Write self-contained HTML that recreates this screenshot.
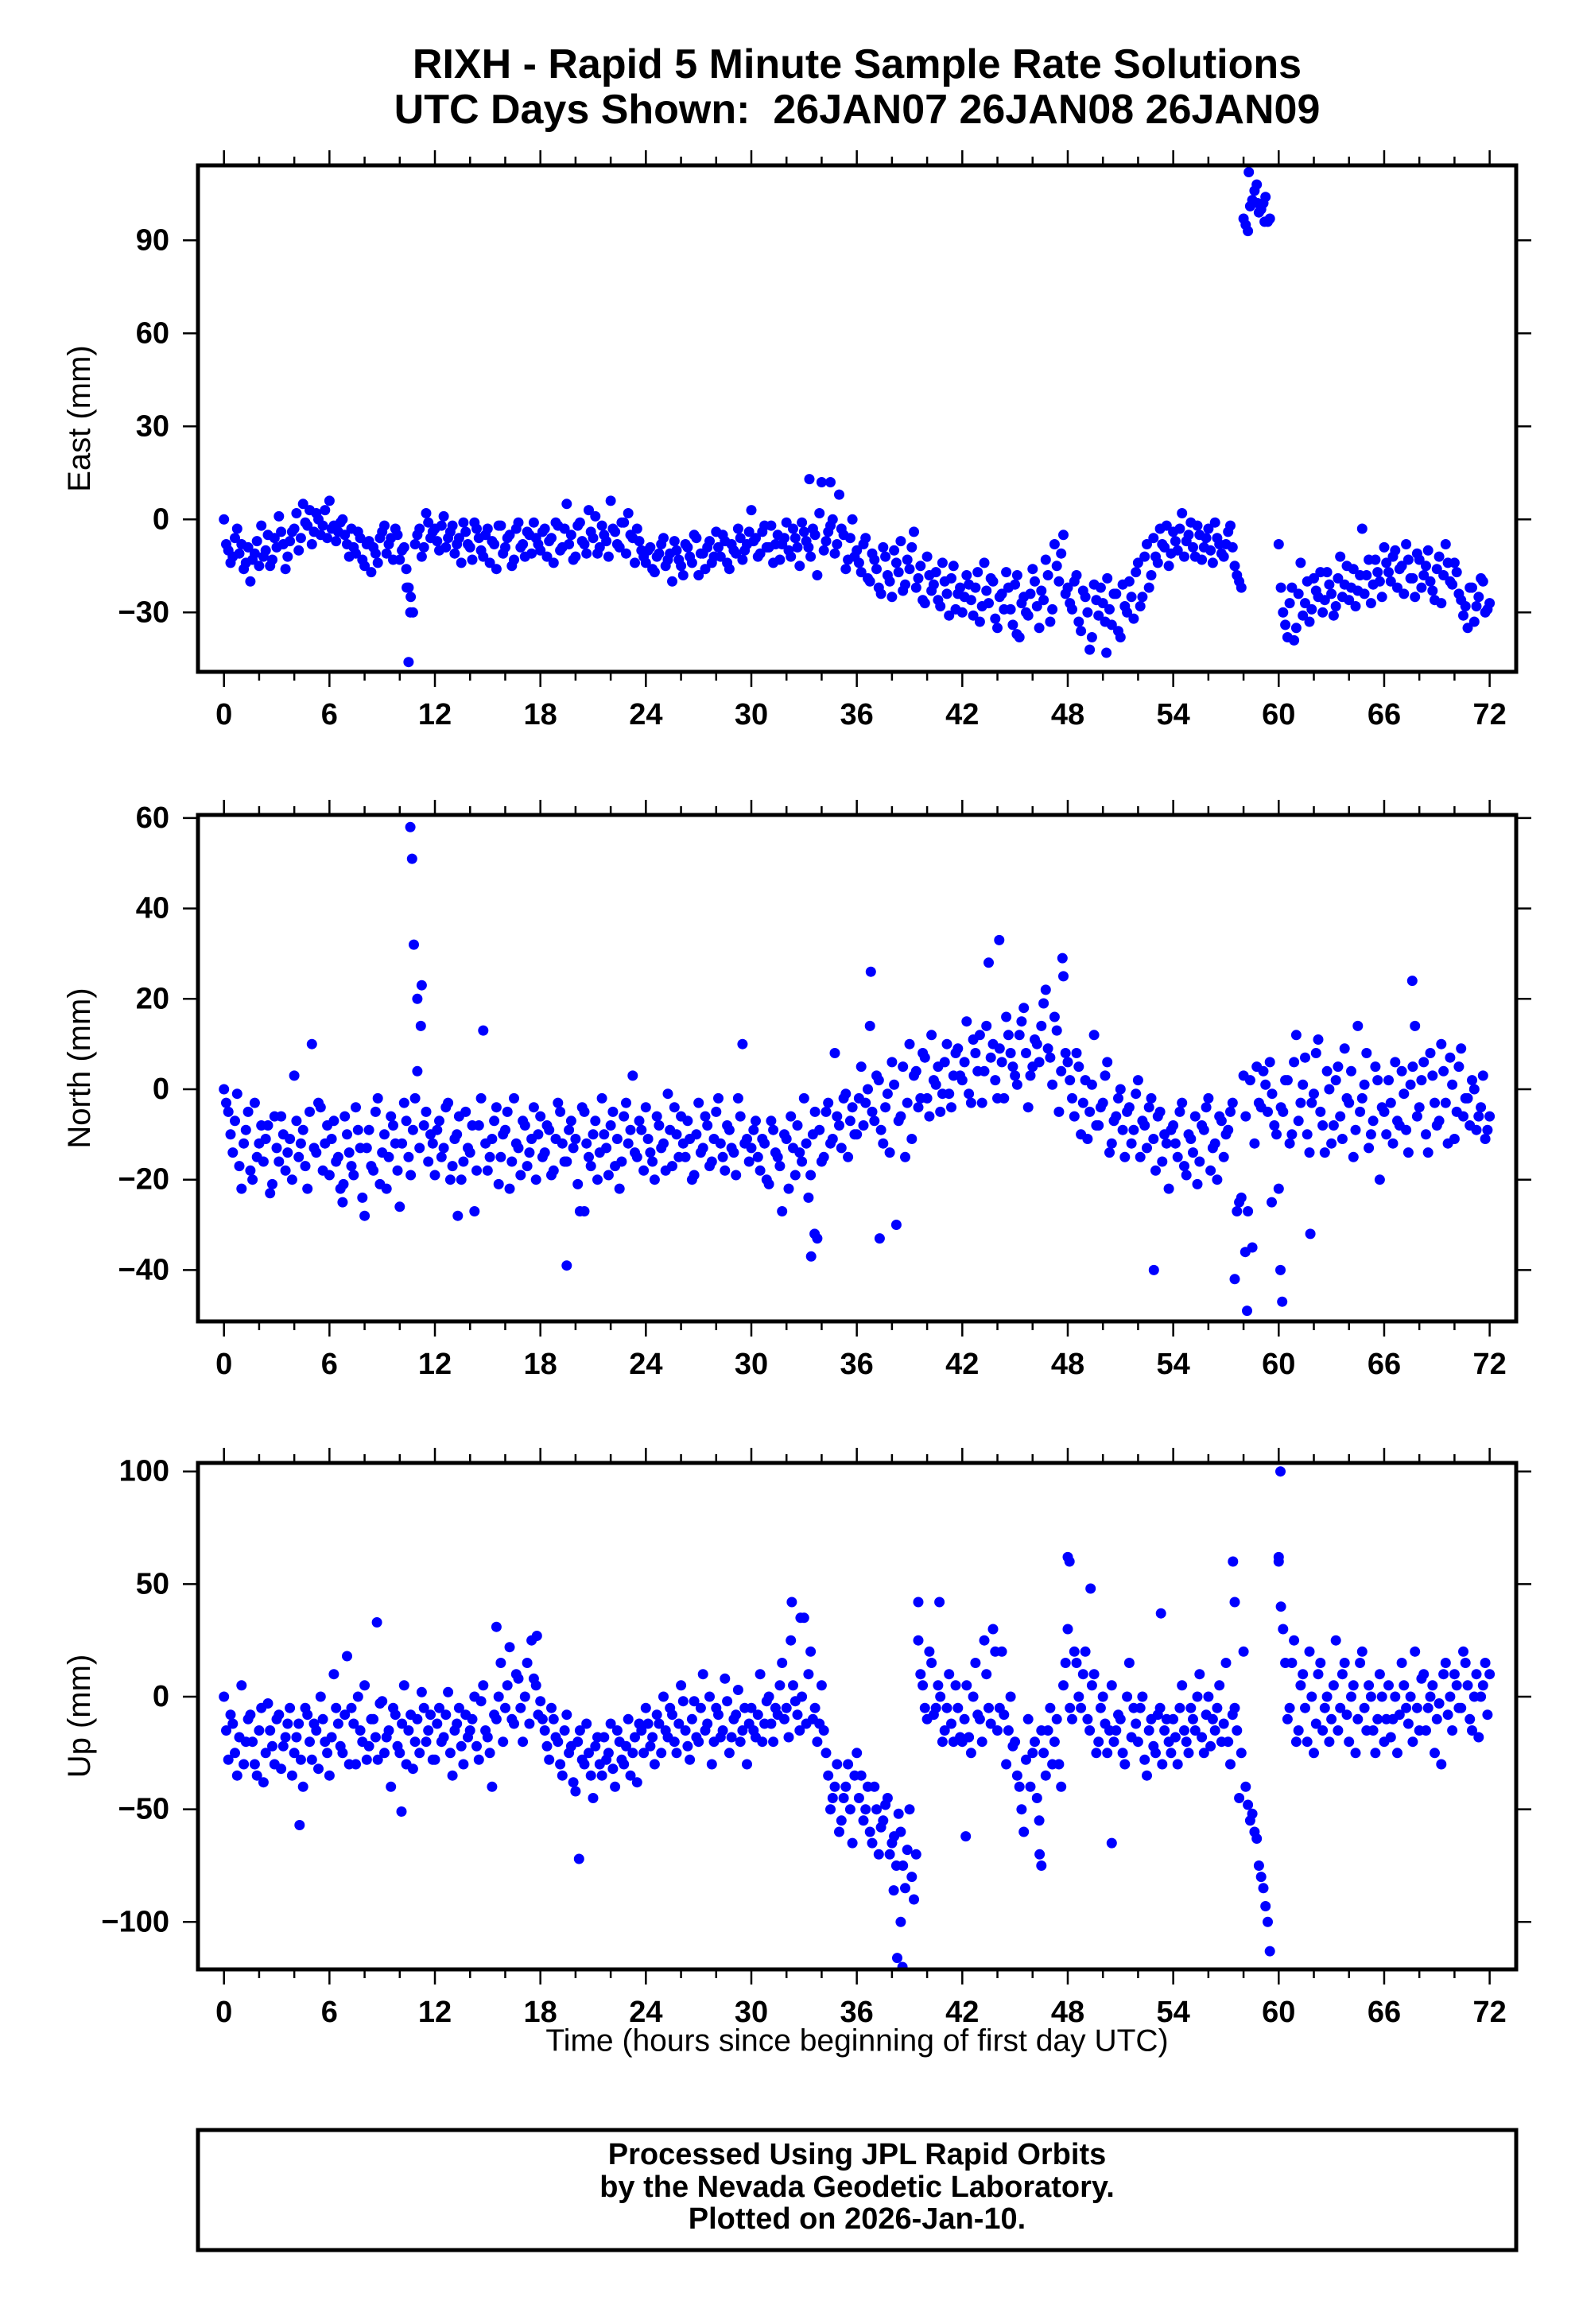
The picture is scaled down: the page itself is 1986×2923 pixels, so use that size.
<!DOCTYPE html>
<html><head><meta charset="utf-8"><title>RIXH Rapid 5 Minute Solutions</title>
<style>html,body{margin:0;padding:0;background:#fff}svg{display:block}text{font-family:"Liberation Sans",Arial,sans-serif}</style>
</head><body>
<svg id="chart" width="1986" height="2923" viewBox="0 0 1986 2923" xmlns="http://www.w3.org/2000/svg">
<rect width="1986" height="2923" fill="#fff"/>
<text x="1078" y="81" font-size="52" font-weight="bold" text-anchor="middle" dominant-baseline="central">RIXH - Rapid 5 Minute Sample Rate Solutions</text>
<text x="1078" y="138" font-size="52" font-weight="bold" text-anchor="middle" dominant-baseline="central" xml:space="preserve">UTC Days Shown:  26JAN07 26JAN08 26JAN09</text>
<text x="1078" y="2567" font-size="39" text-anchor="middle" dominant-baseline="central">Time (hours since beginning of first day UTC)</text>
<rect x="249" y="2679" width="1658" height="151" fill="none" stroke="#000" stroke-width="5"/>
<text x="1078" y="2710" font-size="38" font-weight="bold" text-anchor="middle" dominant-baseline="central">Processed Using JPL Rapid Orbits</text>
<text x="1078" y="2751" font-size="38" font-weight="bold" text-anchor="middle" dominant-baseline="central">by the Nevada Geodetic Laboratory.</text>
<text x="1078" y="2791" font-size="38" font-weight="bold" text-anchor="middle" dominant-baseline="central">Plotted on 2026-Jan-10.</text>
</svg>
<script>
const xTicks = [0,6,12,18,24,30,36,42,48,54,60,66,72];
const eastTicks = [-30,0,30,60,90];
const northTicks = [-40,-20,0,20,40,60];
const upTicks = [-100,-50,0,50,100];
const eastValues = [
0,-10,-12,-3,-8,-14,-20,-11,-15,-12,-5,-13,-9,-4,-16,-7,-3,-10,5,-2,-8,2,-5,3,
6,-2,-4,0,-8,-3,-11,-6,-15,-7,-9,-14,-4,-11,-6,-3,-13,-9,-22,-30,-5,-12,2,-6,
-3,-10,1,-6,-2,-8,-14,-4,-9,-1,-6,-12,-3,-7,-16,-2,-9,-5,-13,-1,-8,-4,-11,-6,
-10,-3,-7,-14,-2,-9,5,-5,-12,-1,-8,3,-6,-11,-2,-7,6,-4,-9,-1,2,-6,-3,-10,
-14,-9,-17,-11,-6,-13,-20,-10,-15,-8,-12,-5,-18,-11,-9,-14,-4,-12,-7,-16,-10,-3,-13,-8,
3,-6,-11,-2,-9,-14,-5,-8,-1,-12,-6,-15,-4,-9,-3,-18,12,-7,-2,-11,8,-5,-13,0,
-10,-17,-6,-20,-13,-22,-9,-18,-25,-14,-7,-21,-16,-4,-19,-26,-12,-23,-17,-28,-20,-31,-15,-24,
-30,-18,-26,-22,-33,-14,-27,-20,-35,-24,-17,-29,-21,-38,-25,-31,-16,-28,-23,-13,-33,-8,-20,-5,
-22,-29,-18,-36,-25,-42,-21,-31,-27,-19,-34,-24,-38,-28,-20,-32,-14,-25,-8,-18,-12,-3,-9,-15,
-4,-10,2,-7,-1,-12,-5,-9,-3,-14,-6,-11,-8,-2,-15,-20,97,93,103,108,100,104,97,null,
-8,-30,-38,-22,-35,-14,-27,-33,-19,-25,-30,-17,-24,-28,-12,-21,-26,-16,-23,-3,-18,-27,-13,-20,
-9,-17,-12,-22,-15,-8,-19,-25,-13,-18,-10,-23,-16,-27,-8,-20,-14,-24,-31,-35,-22,-28,-19,-30,
-27];
const eastValues2 = [
-8,-14,-6,-11,-16,-9,-13,-7,-2,-10,-15,-6,1,-8,-12,-4,2,-6,-1,3,-4,0,-2,-6,
-3,-7,-1,-5,-12,-9,-4,-13,-8,-17,-11,-6,-2,-8,-13,-5,-10,-16,-25,-8,-3,-9,-1,-4,
-7,-2,-9,-4,-11,-6,-1,-8,-13,-3,-10,-5,-14,-8,-2,-11,-6,-15,-3,-9,-12,-5,-1,-8,
-4,-12,-6,-1,-10,-3,-8,-13,-2,-7,-11,-4,1,-9,-5,-12,-3,-8,-1,-11,-5,-14,-7,-12,
-10,-16,-12,-8,-15,-11,-7,-13,-18,-9,-14,-6,-11,-16,-7,-12,-9,-5,-14,-8,-11,-6,-10,-4,
-7,-12,-4,-9,-2,-8,-13,-6,-10,-3,-9,-1,-7,-12,-5,2,-10,-4,0,-8,-3,-16,-6,-12,
-14,-8,-19,-11,-16,-24,-12,-20,-10,-17,-23,-13,-9,-22,-15,-27,-18,-21,-26,-14,-24,-19,-29,-22,
-25,-21,-31,-17,-28,-23,-19,-32,-25,-29,-22,-34,-18,-27,-30,-24,-20,-35,-26,-18,-29,-15,-11,-24,
-27,-20,-33,-23,-30,-38,-26,-22,-33,-29,-24,-36,-21,-30,-25,-17,-28,-12,-22,-6,-14,-8,-2,-11,
-7,-3,-12,-5,-9,-2,-13,-6,-10,-1,-8,-12,-4,-9,-18,-22,95,101,106,99,102,96,null,null,
-22,-34,-27,-39,-24,-31,-20,-29,-23,-17,-26,-21,-31,-19,-25,-15,-22,-28,-18,-24,-13,-21,-17,-25,
-14,-20,-10,-16,-24,-13,-19,-11,-22,-15,-20,-26,-12,-18,-14,-21,-17,-26,-28,-22,-33,-25,-20,-29];
const eastExtraT = [10.4,10.6,10.5,33.3,34.5,58.3,58.8,59.2,45.1,50.2];
const eastExtraV = [-22,-30,-46,13,12,112,102,96,-37,-43];
const northValues = [
0,-5,-14,-1,-22,-9,-18,-3,-12,-16,-8,-21,-13,-6,-18,-11,3,-15,-9,-22,10,-14,-4,-12,
-19,-7,-15,-25,-10,-17,-4,-13,-28,-9,-18,-2,-14,-22,-6,-12,-26,-3,-15,-9,4,23,-5,-10,
-19,-7,-13,-3,-17,-10,-20,-5,-14,-27,-8,13,-18,-11,-4,-15,-9,-22,-2,-13,-7,-17,-11,-20,
-6,-14,-9,-18,-3,-12,-16,-7,-11,-27,-5,-15,-10,-20,-2,-13,-8,-17,-22,-6,-12,3,-15,-9,
-4,-14,-20,-8,-12,-1,-17,-10,-6,-15,-11,-19,-3,-13,-8,-16,-5,-12,-18,-9,-14,-2,10,-11,
-13,-7,-18,-12,-21,-9,-15,-27,-11,-6,-19,-14,-2,-24,-10,-33,-16,-5,-12,8,-8,-2,-15,-4,
-10,5,-3,14,-7,2,-12,-1,6,-30,-6,-15,10,3,-4,8,-2,12,1,-5,6,-1,3,9,
2,15,-3,8,12,4,28,10,-2,6,16,8,3,12,18,-4,5,10,14,22,7,16,-5,25,
6,-2,8,-10,2,-5,12,-8,-3,6,-12,-6,0,-15,-4,-9,2,-7,-13,-2,-18,-5,-10,-22,
-8,-15,-3,-19,-11,-6,-16,-9,-2,-13,-20,-7,-10,-5,-42,-25,3,-27,-35,5,-4,1,6,-8,
-22,-5,2,-10,12,-3,7,-14,-1,11,-8,4,-12,2,-6,9,-3,-15,14,-2,8,-10,5,-20,
-5,2,-12,-7,4,-9,1,14,-4,6,-14,3,-8,10,-3,7,-11,5,-6,-2,2,-9,-4,-11,
-6];
const northValues2 = [
-3,-10,-7,-17,-12,-5,-20,-15,-8,-11,-23,-6,-16,-10,-14,-20,-7,-12,-17,-5,-13,-3,-18,-8,
-11,-16,-22,-6,-14,-19,-9,-24,-13,-17,-5,-21,-10,-15,-8,-18,-12,-7,-19,-2,-13,-8,-16,-12,
-9,-15,-4,-20,-11,-6,-16,-13,-8,-18,-2,-12,-15,-7,-21,-10,-5,-16,-12,-19,-8,-14,-4,-10,
-15,-8,-19,-11,-5,-16,-9,-13,-21,-4,-12,-17,-7,-14,-10,-19,-5,-11,-16,-3,-9,-14,-7,-18,
-11,-16,-6,-13,-18,-9,-4,-15,-12,-7,-20,-10,-14,-6,-17,-11,-2,-15,-8,-13,-19,-6,-12,-16,
-9,-15,-11,-20,-7,-14,-17,-10,-22,-13,-8,-16,-12,-19,-5,-9,-15,-3,-11,-6,-13,-1,-7,-10,
-2,-8,0,-5,3,-9,-4,-14,1,-7,5,-3,-11,4,-2,7,-6,2,5,-1,10,-4,8,3,
6,-1,11,4,-3,14,7,2,9,-2,12,5,1,15,8,3,11,6,19,9,1,13,4,8,
2,-6,5,-3,-11,1,-8,-4,3,-14,-7,-2,-9,-5,-12,-1,-15,-8,-4,-11,-6,-16,-12,-9,
-12,-5,-17,-10,-14,-21,-8,-4,-18,-12,-6,-15,-9,-3,-27,-24,-6,2,-12,-3,4,-5,-1,-10,
-4,2,-12,6,-7,1,-10,-3,8,-5,-14,0,-8,5,-11,-2,4,-9,-5,1,-13,-7,2,-4,
-10,-3,6,-8,-1,-14,5,-6,2,-10,8,-3,-7,4,-12,1,-5,9,-2,-8,0,-6,3,-9];
const northExtraT = [10.6,10.7,10.8,11,11.2,19.5,33.4,33.6,36.8,44.1,47.7,52.9,58.2,58.1,59.6,60.1,60.2,61.8,67.6,20.5,13.3,37.3,6.8];
const northExtraV = [58,51,32,20,14,-39,-37,-32,26,33,29,-40,-49,-36,-25,-40,-47,-32,24,-27,-28,-33,-21];
const upValues = [
0,-28,-12,-35,5,-20,-8,-30,-15,-38,-3,-22,-10,-32,-18,-5,-25,-12,-40,-8,-28,-15,0,-20,
-35,10,-12,-25,18,-5,-30,-15,5,-22,-10,-28,-2,-18,-40,-8,-25,5,-15,-32,-10,2,-20,-8,
-28,-5,-18,2,-35,-12,-22,-8,-15,0,-28,5,-18,-40,-10,15,-5,22,-12,8,-20,15,25,5,
-2,-15,-28,-10,-20,-35,-8,-22,-42,-15,-30,-25,-45,-18,-35,-28,-12,-40,-20,-30,-10,-25,-38,-15,
-5,-22,-30,-12,0,-18,-8,-25,5,-15,-28,-2,-20,10,-12,-30,-5,-18,8,-25,-10,3,-15,-30,
-5,-18,10,-12,0,-20,-8,15,-5,25,-2,-15,35,10,-10,-20,5,-25,-50,-40,-60,-45,-30,-65,
-25,-35,-50,-60,-40,-70,-55,-45,-65,-75,-60,-85,-50,-90,25,5,-10,15,-5,0,-15,10,-20,-5,
-20,5,-25,15,-10,25,-5,30,-15,20,-30,0,-20,-40,-60,-10,-25,-45,-15,-35,-5,-20,-30,5,
30,-10,15,-5,20,-15,10,-20,0,-25,5,-15,-10,-30,15,-5,-20,0,-35,-10,-25,-5,-15,-20,
-10,-30,5,-20,-5,-15,10,-25,0,-10,-5,-20,15,-30,-5,-45,20,-48,-52,-63,-80,-93,-113,null,
60,30,-10,15,-20,5,-5,20,-25,10,-15,0,-10,25,-5,15,-20,5,-10,20,-15,0,-25,10,
-20,5,-10,-25,15,-5,0,20,-15,10,-5,5,-10,-30,15,0,10,-5,20,5,-15,10,0,15,
10];
const upValues2 = [
-15,-8,-25,-18,-30,-10,-20,-35,-5,-25,-15,-30,-8,-22,-12,-35,-18,-28,-5,-20,-12,-32,-10,-25,
-18,-5,-22,-8,-30,-12,0,-20,-28,-10,-18,-3,-25,-15,-5,-22,-12,-30,-8,-20,-25,-5,-15,-28,
-12,-20,-8,-25,-15,-5,-30,-18,-10,-22,-2,-15,-25,-8,0,-20,5,-10,10,-5,0,-12,8,-8,
-10,-22,-5,-18,-30,-15,-25,-38,-20,-28,-12,-35,-22,-30,-18,-25,-32,-15,-28,-22,-35,-18,-12,-25,
-12,-18,-8,-25,-15,-5,-20,-12,-2,-22,-10,-18,-5,-15,0,-20,-8,-15,-2,-18,-8,-20,-5,-12,
-15,-8,-20,-2,-12,-5,5,-10,-18,5,-8,0,-12,20,-5,-12,-15,-35,-45,-30,-55,-40,-50,-35,
-45,-55,-40,-65,-50,-58,-48,-70,-62,-52,-75,-68,-80,-70,10,-5,20,-8,5,-20,-5,-12,5,-18,
-10,-18,0,-8,-20,10,-12,20,-5,-8,-15,-22,-35,-50,-28,-40,-20,-55,-25,-15,-30,-10,-40,15,
-5,20,0,10,-10,5,-25,-5,-12,-15,-20,-8,-25,0,-18,-12,-5,-28,-15,-22,-8,-30,-10,-25,
-18,-5,-15,-25,-10,0,-18,-8,-22,-15,5,-12,-20,-8,-15,-25,-40,-55,-60,-75,-85,-100,null,null,
40,15,-5,25,-15,10,-20,0,-12,15,-5,-20,5,-15,10,-8,0,-25,15,-5,5,-15,-10,0,
-10,-18,0,-8,5,-12,-20,-5,8,-15,0,-25,-3,10,-8,-15,5,-5,15,-10,0,-18,5,-8];
const upExtraT = [4.3,10.1,20.2,32.3,32.8,38.3,38.6,38.5,38.1,39.5,40.7,48.0,48.1,46.5,46.4,49.3,50.5,42.2,57.5,57.4,60.1,60.0,17.8,15.5,8.7,53.3];
const upExtraV = [-57,-51,-72,42,35,-116,-120,-100,-86,42,42,62,60,-75,-70,48,-65,-62,42,60,100,62,27,31,33,37];
const sampleStep = 0.25;
const offset2 = 0.125;

const NS = 'http://www.w3.org/2000/svg';
const svg = document.getElementById('chart');
const X0 = 281.7, XPX = 22.11, FL = 249, FR = 1907;
function xScale(t){ return X0 + t*XPX; }
const panels = [
 {key:'east', title:'East (mm)', top:208, bottom:845, zeroY:653.3, ppu:3.9, ticks:eastTicks, vals:eastValues, vals2:eastValues2, et:eastExtraT, ev:eastExtraV},
 {key:'north', title:'North (mm)', top:1025, bottom:1662, zeroY:1370, ppu:5.685, ticks:northTicks, vals:northValues, vals2:northValues2, et:northExtraT, ev:northExtraV},
 {key:'up', title:'Up (mm)', top:1840, bottom:2477, zeroY:2134, ppu:2.833, ticks:upTicks, vals:upValues, vals2:upValues2, et:upExtraT, ev:upExtraV}
];
function mk(tag, attrs){ const e=document.createElementNS(NS,tag); for(const k in attrs) e.setAttribute(k, attrs[k]); return e; }

panels.forEach(p=>{
  const yScale = v => p.zeroY - v*p.ppu;
  const g = mk('g',{});
  
  
  svg.appendChild(g);
  const cp = mk('clipPath',{id:'clip-'+p.key});
  cp.appendChild(mk('rect',{x:FL,y:p.top,width:FR-FL,height:p.bottom-p.top}));
  g.appendChild(cp);
  const pts = mk('g',{fill:'#0000ff','clip-path':'url(#clip-'+p.key+')'});
  
  
  g.appendChild(pts);
  function dot(t,v){
    const c = mk('circle',{cx:xScale(t).toFixed(1), cy:yScale(v).toFixed(1), r:6.5});
    
    
    pts.appendChild(c);
  }
  p.vals.forEach((v,i)=>{ if(v!==null) dot(i*sampleStep, v); });
  p.vals2.forEach((v,i)=>{ if(v!==null) dot(offset2 + i*sampleStep, v); });
  p.et.forEach((t,i)=>{ dot(t, p.ev[i]); });
  const fr = mk('rect',{x:FL,y:p.top,width:FR-FL,height:p.bottom-p.top,fill:'none',stroke:'#000','stroke-width':5});
  
  
  g.appendChild(fr);
  for(let h=0; h<=72; h+=2){
    const x = xScale(h), len = (h%6===0)?17:9;
    g.appendChild(mk('line',{x1:x,x2:x,y1:p.top-2,y2:p.top-2-len,stroke:'#000','stroke-width':2.5}));
    g.appendChild(mk('line',{x1:x,x2:x,y1:p.bottom+2,y2:p.bottom+2+len,stroke:'#000','stroke-width':2.5}));
  }
  xTicks.forEach(t=>{
    const tx = mk('text',{x:xScale(t),y:p.bottom+54,'font-size':38,'font-weight':'bold','text-anchor':'middle','dominant-baseline':'central'});
    
    
    tx.textContent = t;
    g.appendChild(tx);
  });
  p.ticks.forEach(v=>{
    const y = yScale(v);
    g.appendChild(mk('line',{x1:FL-2,x2:FL-19,y1:y,y2:y,stroke:'#000','stroke-width':2.5}));
    g.appendChild(mk('line',{x1:FR+2,x2:FR+19,y1:y,y2:y,stroke:'#000','stroke-width':2.5}));
    const tx = mk('text',{x:213,y:y,'font-size':38,'font-weight':'bold','text-anchor':'end','dominant-baseline':'central'});
    
    
    tx.textContent = v<0 ? '\u2212'+Math.abs(v) : String(v);
    g.appendChild(tx);
  });
  const cy = (p.top+p.bottom)/2;
  const yt = mk('text',{x:100,y:cy,'font-size':40,'text-anchor':'middle','dominant-baseline':'central',transform:'rotate(-90 100 '+cy+')'});
  
  
  yt.textContent = p.title;
  g.appendChild(yt);
});
</script>
</body></html>
